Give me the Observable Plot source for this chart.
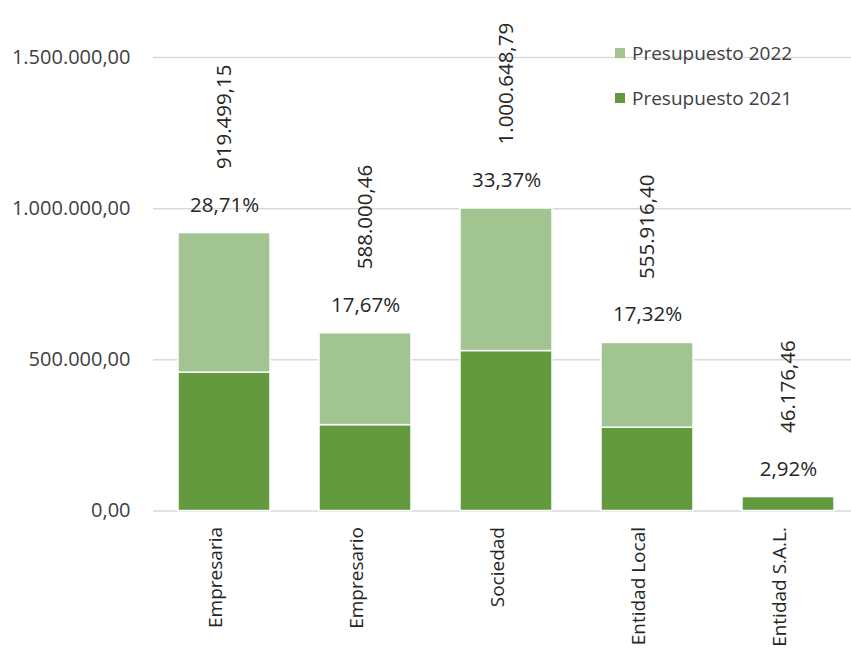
<!DOCTYPE html>
<html><head><meta charset="utf-8">
<script src="https://cdn.jsdelivr.net/npm/d3@7"></script>
<script src="https://cdn.jsdelivr.net/npm/@observablehq/plot@0.6"></script>
<style>
body{margin:0;background:#fff;font-family:"Open Sans",sans-serif;}
#wrap{position:relative;width:851px;height:648px;}
.item{position:absolute;left:615px;height:24px;display:flex;align-items:center;font-size:19px;color:#404040;font-family:"Open Sans",sans-serif;white-space:nowrap;}
.sw{width:10px;height:10px;margin-right:7px;}
</style></head><body><div id="wrap"></div>
<script>
const categories = ["Empresaria","Empresario","Sociedad","Entidad Local","Entidad S.A.L."];
const presupuesto2021 = [457600, 284100, 529100, 275500, 46176.46];
const presupuesto2022 = [461899.15, 303900.46, 471548.79, 280416.40, 0];
const totals = [919499.15, 588000.46, 1000648.79, 555916.40, 46176.46];
const shares = ["28,71%","17,67%","33,37%","17,32%","2,92%"];
const yTicks = [0, 500000, 1000000, 1500000];
const series = ["Presupuesto 2021","Presupuesto 2022"];
const colors = ["#629a3d","#a2c491"];

const locale = d3.formatLocale({decimal: ",", thousands: ".", grouping: [3], currency: ["", ""]});
const fmt = locale.format(",.2f");

const rows = [];
categories.forEach((c, i) => rows.push({cat: c, series: series[0], value: presupuesto2021[i]}));
categories.forEach((c, i) => rows.push({cat: c, series: series[1], value: presupuesto2022[i]}));
const tot = categories.map((c, i) => ({cat: c, total: totals[i], share: shares[i]}));

const chart = Plot.plot({
  width: 851,
  height: 648,
  marginLeft: 153,
  marginRight: 0,
  marginTop: 57,
  marginBottom: 137.5,
  style: {fontFamily: "'Open Sans', sans-serif", fontSize: "19px", background: "#fff"},
  x: {domain: categories, range: [127.4, 885], padding: 0.35, axis: null},
  y: {domain: [0, 1500000], axis: null},
  color: {domain: series, range: colors},
  marks: [
    Plot.ruleY(yTicks, {stroke: "#d9d9d9", strokeWidth: 1.5}),
    Plot.barY(rows, {x: "cat", y: "value", fill: "series", stroke: "white", strokeWidth: 1.5}),
    Plot.axisY(yTicks, {tickSize: 0, tickPadding: 23, tickFormat: fmt, fontSize: 20, fill: "#404040", label: null}),
    Plot.axisX({tickSize: 0, tickRotate: -90, tickPadding: 16, fontSize: 19, fill: "#262626", dx: -9, label: null}),
    Plot.text(tot, {x: "cat", y: "total", text: "share", dy: -28, fontSize: 20.5, fill: "#262626"}),
    Plot.text(tot, {x: "cat", y: "total", text: d => fmt(d.total), rotate: -90, textAnchor: "start", dy: -64, fontSize: 20.5, fill: "#262626"})
  ]
});
const wrap = document.getElementById("wrap");
wrap.appendChild(chart);
const legendOrder = [1, 0];
const tops = [41, 86];
legendOrder.forEach((k, j) => {
  const it = document.createElement("div");
  it.className = "item";
  it.style.top = tops[j] + "px";
  it.innerHTML = `<span class="sw" style="background:${colors[k]}"></span><span>${series[k]}</span>`;
  wrap.appendChild(it);
});
</script>
</body></html>
